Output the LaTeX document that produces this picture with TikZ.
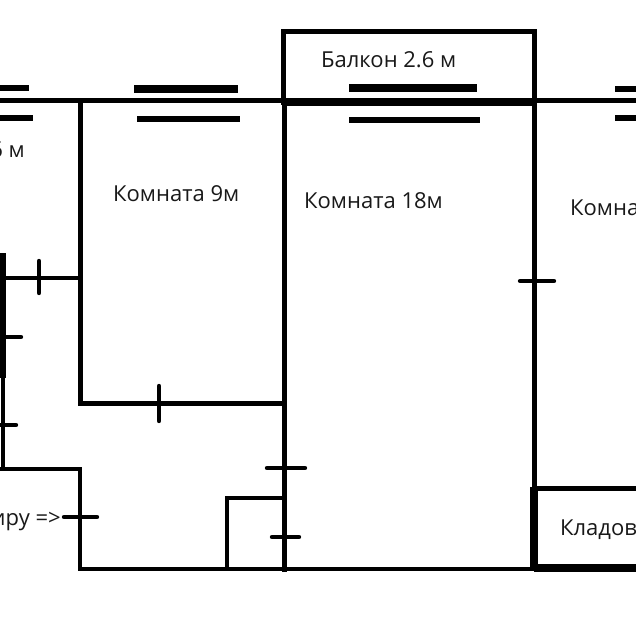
\documentclass[tikz,border=0pt]{standalone}
\usepackage{fontspec}
\setmainfont{Open Sans}
\tikzset{
  wall/.style={line width=5pt,line cap=rect,black},
  thinwall/.style={line width=4.2pt,line cap=rect,black},
  heavy/.style={line width=8pt,black},
  tick/.style={line width=4.4pt,line cap=round,black},
  win/.style={line width=6.5pt,black},
  label/.style={anchor=base west,inner sep=0pt,font=\fontsize{22}{22}\selectfont,text=black!90}
}
\begin{document}
\begin{tikzpicture}[x=1pt,y=-1pt]
\useasboundingbox (0,0) rectangle (636,636);
\clip (0,0) rectangle (636,636);
\fill[white] (0,0) rectangle (636,636);
% outer and room walls
\draw[wall] (0,101) -- (636,101);
\draw[line width=6.5pt] (284,102.5) -- (534,102.5);
\draw[wall] (283,103) -- (283,32) -- (534,32) -- (534,103);
\draw[wall] (80,101) -- (80,403) -- (284,403);
\draw[wall] (284,101) -- (284,569);
\draw[wall] (534,101) -- (534,490);
\draw[heavy] (534,487) -- (534,568);
\draw[wall] (534,488) -- (636,488);
\draw[thinwall] (80,569) -- (534,569);
\draw[heavy] (534,567.5) -- (636,567.5);
\draw[thinwall] (0,278) -- (80,278);
\draw[line width=11pt] (0,253) -- (0,378);
\draw[line width=4.6pt] (3,378) -- (3,469);
\draw[thinwall] (0,469) -- (80,469) -- (80,569);
\draw[thinwall] (227,569) -- (227,498) -- (284,498);
% windows
\draw[win] (0,88) -- (29,88);
\draw[win] (0,118) -- (33,118);
\draw[line width=7.5pt] (134,89) -- (238,89);
\draw[win] (137,119) -- (240,119);
\draw[line width=8.5pt] (349,88) -- (477,88);
\draw[win] (349,120) -- (480,120);
\draw[win] (615,89) -- (636,89);
\draw[win] (615,118) -- (636,118);
% door ticks
\draw[tick] (39,261) -- (39,293);
\draw[tick] (3,337) -- (21,337);
\draw[tick] (0,425) -- (16,425);
\draw[tick] (64,517) -- (97,517);
\draw[tick] (159,386) -- (159,421);
\draw[tick] (267,468) -- (305,468);
\draw[tick] (272,537) -- (299,537);
\draw[tick] (520,281) -- (554,281);
% labels
\node[label] (balcony) at (321,68) {Балкон 2.6 м};
\node[label] (room9) at (113,201) {Комната 9м};
\node[label] (room18) at (304,208) {Комната 18м};
\node[label] (roomright) at (570,215) {Комната};
\node[label] (pantry) at (560,535) {Кладовка};
\node[label,anchor=base east] (roomleft) at (25,158) {Комната 16 м};
\node[label,anchor=base east] (entry) at (61,525) {В квартиру =>};
\end{tikzpicture}
\end{document}
